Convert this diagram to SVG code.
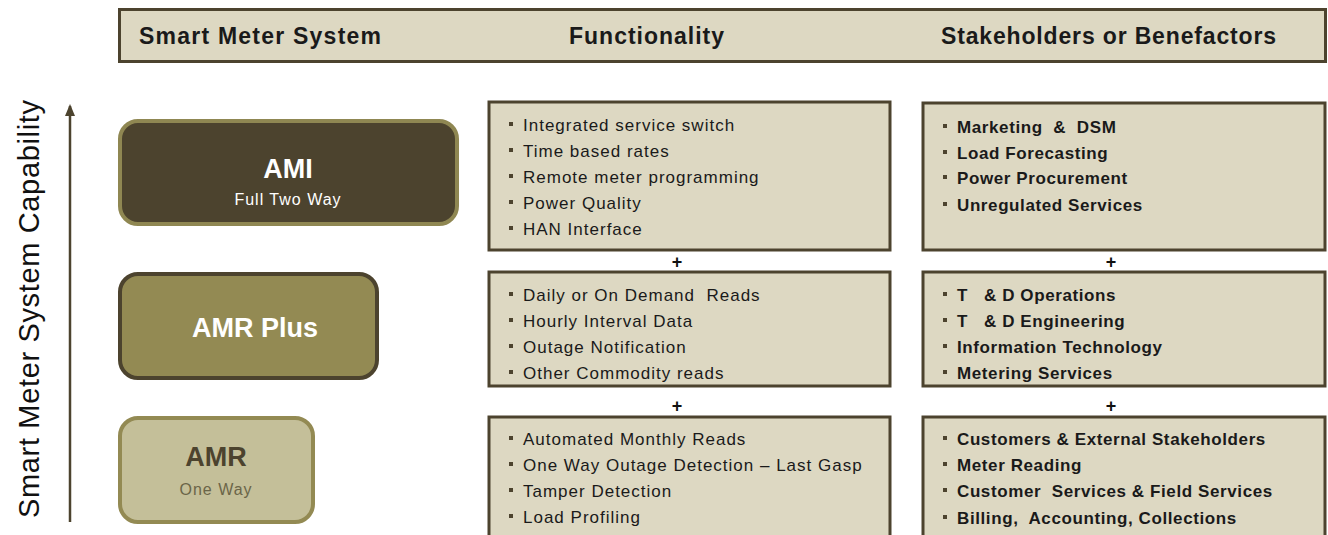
<svg xmlns="http://www.w3.org/2000/svg" width="1328" height="535" viewBox="0 0 1328 535">
<style>
text{white-space:pre}
.hdr{font-family:"Liberation Sans",Arial,sans-serif;font-weight:bold;font-size:23px;fill:#1a1a1a}
.box{fill:#ddd8c2;stroke:#4c432e;stroke-width:3}
.li{font-family:"Liberation Sans",Arial,sans-serif;font-size:17px;fill:#1a1a1a;letter-spacing:1px}
.lb{font-family:"Liberation Sans",Arial,sans-serif;font-size:17px;font-weight:bold;fill:#1a1a1a;letter-spacing:0.6px}
.bul{fill:#4c432e}
.plus{font-family:"Liberation Sans",Arial,sans-serif;font-size:18px;font-weight:bold;fill:#111;text-anchor:middle}
.big{font-family:"Liberation Sans",Arial,sans-serif;font-weight:bold;font-size:27px;text-anchor:middle}
.sub{font-family:"Liberation Sans",Arial,sans-serif;font-size:16px;text-anchor:middle;letter-spacing:1px}
</style>
<defs>
<marker id="ah" markerWidth="12" markerHeight="12" refX="10" refY="5" orient="auto" markerUnits="userSpaceOnUse">
<path d="M0,0 L12,5 L0,10 Z" fill="#4c432e"/>
</marker>
</defs>
<g id="header">
<rect class="box" x="119.5" y="9.5" width="1206" height="52"/>
<text class="hdr" x="139" y="44" textLength="242" lengthAdjust="spacing">Smart Meter System</text>
<text class="hdr" x="569" y="44" textLength="155" lengthAdjust="spacing">Functionality</text>
<text class="hdr" x="941" y="44" textLength="335" lengthAdjust="spacing">Stakeholders or Benefactors</text>
</g>
<g id="axis">
<text x="0" y="0" transform="translate(39,309) rotate(-90)" text-anchor="middle" font-family="Liberation Sans, Arial, sans-serif" font-size="29" fill="#111" textLength="418" lengthAdjust="spacing">Smart Meter System Capability</text>
</g>
<g id="connectors">
<line x1="70" y1="522" x2="70" y2="106" stroke="#4c432e" stroke-width="2.5" marker-end="url(#ah)"/>
</g>
<g id="ami">
<rect x="120" y="121" width="337" height="103" rx="18" fill="#4c432e" stroke="#8f8752" stroke-width="4"/>
<text class="big" x="288" y="178" fill="#ffffff">AMI</text>
<text class="sub" x="288" y="205" fill="#ffffff">Full Two Way</text>
</g>
<g id="amrplus">
<rect x="120" y="274" width="257" height="104" rx="18" fill="#938a53" stroke="#4c432e" stroke-width="4"/>
<text class="big" x="255" y="337" fill="#ffffff">AMR Plus</text>
</g>
<g id="amr">
<rect x="120" y="418" width="193" height="104" rx="18" fill="#c4bf99" stroke="#938a53" stroke-width="4"/>
<text class="big" x="216" y="466" fill="#4c432e">AMR</text>
<text class="sub" x="216" y="495" fill="#6b6548">One Way</text>
</g>
<g id="func-ami">
<rect class="box" x="489" y="102" width="401" height="148"/>
<rect class="bul" x="509" y="122" width="4" height="4"/><text class="li" x="523" y="131">Integrated service switch</text>
<rect class="bul" x="509" y="148" width="4" height="4"/><text class="li" x="523" y="157">Time based rates</text>
<rect class="bul" x="509" y="174" width="4" height="4"/><text class="li" x="523" y="183">Remote meter programming</text>
<rect class="bul" x="509" y="200" width="4" height="4"/><text class="li" x="523" y="209">Power Quality</text>
<rect class="bul" x="509" y="226" width="4" height="4"/><text class="li" x="523" y="235">HAN Interface</text>
</g>
<g id="func-amrplus">
<rect class="box" x="489" y="272" width="401" height="114"/>
<rect class="bul" x="509" y="292" width="4" height="4"/><text class="li" x="523" y="301">Daily or On Demand  Reads</text>
<rect class="bul" x="509" y="318" width="4" height="4"/><text class="li" x="523" y="327">Hourly Interval Data</text>
<rect class="bul" x="509" y="344" width="4" height="4"/><text class="li" x="523" y="353">Outage Notification</text>
<rect class="bul" x="509" y="370" width="4" height="4"/><text class="li" x="523" y="379">Other Commodity reads</text>
</g>
<g id="func-amr">
<rect class="box" x="489" y="417" width="401" height="130"/>
<rect class="bul" x="509" y="436" width="4" height="4"/><text class="li" x="523" y="445">Automated Monthly Reads</text>
<rect class="bul" x="509" y="462" width="4" height="4"/><text class="li" x="523" y="471">One Way Outage Detection – Last Gasp</text>
<rect class="bul" x="509" y="488" width="4" height="4"/><text class="li" x="523" y="497">Tamper Detection</text>
<rect class="bul" x="509" y="514" width="4" height="4"/><text class="li" x="523" y="523">Load Profiling</text>
</g>
<g id="stake-ami">
<rect class="box" x="923" y="103" width="402" height="147"/>
<rect class="bul" x="943" y="124" width="4" height="4"/><text class="lb" x="957" y="133">Marketing  &amp;  DSM</text>
<rect class="bul" x="943" y="150" width="4" height="4"/><text class="lb" x="957" y="159">Load Forecasting</text>
<rect class="bul" x="943" y="175" width="4" height="4"/><text class="lb" x="957" y="184">Power Procurement</text>
<rect class="bul" x="943" y="202" width="4" height="4"/><text class="lb" x="957" y="211">Unregulated Services</text>
</g>
<g id="stake-amrplus">
<rect class="box" x="923" y="272" width="402" height="114"/>
<rect class="bul" x="943" y="292" width="4" height="4"/><text class="lb" x="957" y="301">T   &amp; D Operations</text>
<rect class="bul" x="943" y="318" width="4" height="4"/><text class="lb" x="957" y="327">T   &amp; D Engineering</text>
<rect class="bul" x="943" y="344" width="4" height="4"/><text class="lb" x="957" y="353">Information Technology</text>
<rect class="bul" x="943" y="370" width="4" height="4"/><text class="lb" x="957" y="379">Metering Services</text>
</g>
<g id="stake-amr">
<rect class="box" x="923" y="417" width="402" height="130"/>
<rect class="bul" x="943" y="436" width="4" height="4"/><text class="lb" x="957" y="445">Customers &amp; External Stakeholders</text>
<rect class="bul" x="943" y="462" width="4" height="4"/><text class="lb" x="957" y="471">Meter Reading</text>
<rect class="bul" x="943" y="488" width="4" height="4"/><text class="lb" x="957" y="497">Customer  Services &amp; Field Services</text>
<rect class="bul" x="943" y="515" width="4" height="4"/><text class="lb" x="957" y="524">Billing,  Accounting, Collections</text>
</g>
<g id="plus-signs">
<text class="plus" x="677" y="268">+</text>
<text class="plus" x="677" y="412">+</text>
<text class="plus" x="1111" y="268">+</text>
<text class="plus" x="1111" y="412">+</text>
</g>
</svg>
